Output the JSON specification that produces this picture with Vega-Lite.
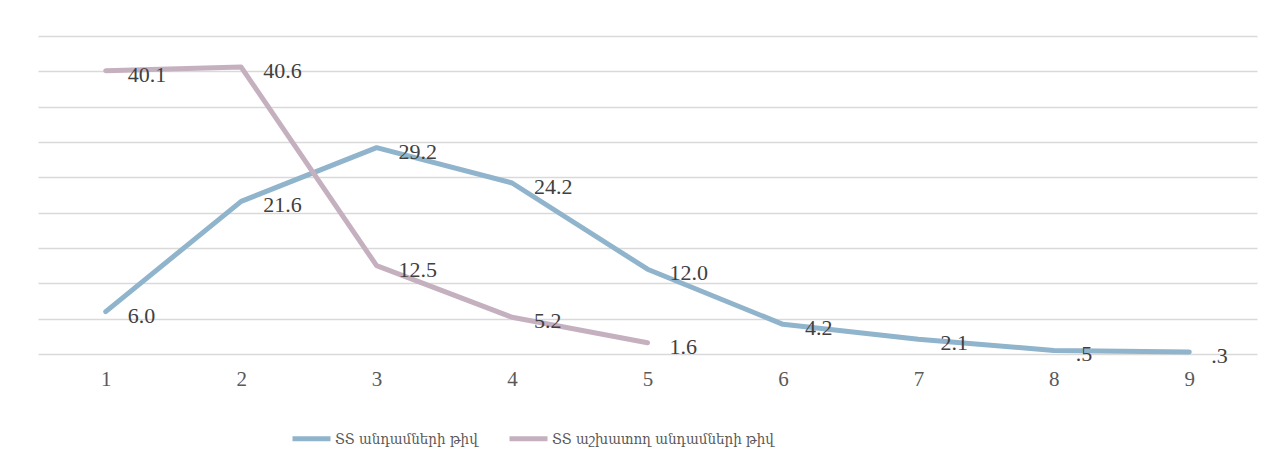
{
  "$schema": "https://vega.github.io/schema/vega-lite/v6.json",
  "width": 1219,
  "height": 318,
  "padding": {"left": 38, "top": 36, "right": 14, "bottom": 0},
  "background": "white",
  "config": {
    "view": {"stroke": null},
    "font": "Liberation Serif",
    "axis": {"labelFont": "Liberation Serif", "labelColor": "#595959", "labelFontSize": 21},
    "legend": {"labelFont": "DejaVu Serif Condensed", "labelColor": "#595959", "labelFontSize": 15}
  },
  "data": {
    "values": [
      {"x": "1", "series": "ՏՏ անդամների թիվ", "value": 6.0, "label": "6.0"},
      {"x": "2", "series": "ՏՏ անդամների թիվ", "value": 21.6, "label": "21.6"},
      {"x": "3", "series": "ՏՏ անդամների թիվ", "value": 29.2, "label": "29.2"},
      {"x": "4", "series": "ՏՏ անդամների թիվ", "value": 24.2, "label": "24.2"},
      {"x": "5", "series": "ՏՏ անդամների թիվ", "value": 12.0, "label": "12.0"},
      {"x": "6", "series": "ՏՏ անդամների թիվ", "value": 4.2, "label": "4.2"},
      {"x": "7", "series": "ՏՏ անդամների թիվ", "value": 2.1, "label": "2.1"},
      {"x": "8", "series": "ՏՏ անդամների թիվ", "value": 0.5, "label": ".5"},
      {"x": "9", "series": "ՏՏ անդամների թիվ", "value": 0.3, "label": ".3"},
      {"x": "1", "series": "ՏՏ աշխատող անդամների թիվ", "value": 40.1, "label": "40.1"},
      {"x": "2", "series": "ՏՏ աշխատող անդամների թիվ", "value": 40.6, "label": "40.6"},
      {"x": "3", "series": "ՏՏ աշխատող անդամների թիվ", "value": 12.5, "label": "12.5"},
      {"x": "4", "series": "ՏՏ աշխատող անդամների թիվ", "value": 5.2, "label": "5.2"},
      {"x": "5", "series": "ՏՏ աշխատող անդամների թիվ", "value": 1.6, "label": "1.6"}
    ]
  },
  "encoding": {
    "x": {
      "field": "x", "type": "ordinal",
      "scale": {"type": "point", "padding": 0.5},
      "axis": {"title": null, "labelAngle": 0, "ticks": false, "domain": false, "grid": false, "labelPadding": 14}
    },
    "y": {
      "field": "value", "type": "quantitative",
      "scale": {"domain": [0, 45], "nice": false, "zero": true},
      "axis": {"title": null, "labels": false, "ticks": false, "domain": false, "grid": true, "gridColor": "#d9d9d9", "gridWidth": 1.5, "values": [0, 5, 10, 15, 20, 25, 30, 35, 40, 45]}
    }
  },
  "layer": [
    {
      "mark": {"type": "line", "strokeWidth": 5, "strokeCap": "round", "strokeJoin": "round"},
      "encoding": {
        "color": {
          "field": "series", "type": "nominal",
          "scale": {"domain": ["ՏՏ անդամների թիվ", "ՏՏ աշխատող անդամների թիվ"], "range": ["#8fb4cc", "#c5b0bf"]},
          "legend": {
            "title": null, "orient": "none", "direction": "horizontal",
            "legendX": 252, "legendY": 381,
            "symbolType": "stroke", "symbolSize": 1444, "symbolStrokeWidth": 5,
            "columnPadding": 21, "labelOffset": 2, "labelLimit": 500
          }
        }
      }
    },
    {
      "mark": {"type": "text", "align": "left", "baseline": "middle", "dx": 22, "dy": 4, "font": "Liberation Serif", "fontSize": 22, "color": "#404040"},
      "encoding": {"text": {"field": "label"}, "detail": {"field": "series"}}
    }
  ]
}
